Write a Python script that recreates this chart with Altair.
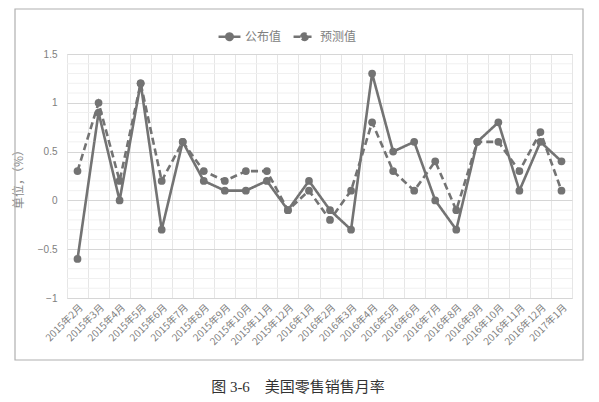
import altair as alt
import pandas as pd

months = ["2015年2月", "2015年3月", "2015年4月", "2015年5月", "2015年6月", "2015年7月",
          "2015年8月", "2015年9月", "2015年10月", "2015年11月", "2015年12月", "2016年1月",
          "2016年2月", "2016年3月", "2016年4月", "2016年5月", "2016年6月", "2016年7月",
          "2016年8月", "2016年9月", "2016年10月", "2016年11月", "2016年12月", "2017年1月"]
published = [-0.6, 0.9, 0.0, 1.2, -0.3, 0.6, 0.2, 0.1, 0.1, 0.2, -0.1, 0.2,
             -0.1, -0.3, 1.3, 0.5, 0.6, 0.0, -0.3, 0.6, 0.8, 0.1, 0.6, 0.4]
forecast = [0.3, 1.0, 0.2, 1.2, 0.2, 0.6, 0.3, 0.2, 0.3, 0.3, -0.1, 0.1,
            -0.2, 0.1, 0.8, 0.3, 0.1, 0.4, -0.1, 0.6, 0.6, 0.3, 0.7, 0.1]
series_names = ["公布值", "预测值"]
y_major = [-1, -0.5, 0, 0.5, 1, 1.5]
y_minor = [-0.9, -0.8, -0.7, -0.6, -0.4, -0.3, -0.2, -0.1, 0.1, 0.2, 0.3, 0.4,
           0.6, 0.7, 0.8, 0.9, 1.1, 1.2, 1.3, 1.4]
caption = "图 3-6\u00a0\u00a0\u00a0\u00a0美国零售销售月率"

rows = []
for i, m in enumerate(months):
    rows.append({"月份": m, "系列": series_names[0], "值": published[i]})
    rows.append({"月份": m, "系列": series_names[1], "值": forecast[i]})
df = pd.DataFrame(rows)

GRAY = "#737373"
FONT = "Noto Sans CJK SC"

x_axis = alt.Axis(labelAngle=-45, labelFontSize=10, labelColor="#808080",
                  labelFont=FONT, ticks=False, domain=False, grid=True,
                  tickBand="extent", gridColor="#e6e6e6", labelPadding=4)
x_scale = alt.Scale(paddingInner=0, paddingOuter=0)
y_axis = alt.Axis(values=y_major, ticks=False, domain=False, labelOverlap=False,
                  format="~g", gridColor="#d6d6d6",
                  labelFontSize=10, labelColor="#808080", labelPadding=10,
                  titleFont=FONT, titleFontSize=12, titleColor="#8a8a8a",
                  titleFontWeight="normal", titlePadding=12)
y_scale = alt.Scale(domain=[-1, 1.5], nice=False)
Y_TITLE = "单位，（%）"

x = alt.X("月份:N", sort=months, title=None, scale=x_scale, axis=x_axis)
y = alt.Y("值:Q", title=Y_TITLE, scale=y_scale, axis=y_axis)

legend = alt.Legend(title=None, orient="none", legendX=150, legendY=-30,
                    direction="horizontal", labelFont=FONT,
                    labelFontSize=12, labelColor="#808080",
                    symbolType="M-1,0H1M-0.3,0A0.3,0.3,0,1,1,0.3,0A0.3,0.3,0,1,1,-0.3,0",
                    symbolSize=480, symbolStrokeWidth=2.4,
                    symbolFillColor=GRAY, columnPadding=6, labelOffset=3)

minor = alt.Chart(pd.DataFrame({"v": y_minor})).mark_rule(
    color="#f0f0f0", strokeWidth=1
).encode(y=alt.Y("v:Q", title=Y_TITLE, scale=y_scale, axis=y_axis))

lines = alt.Chart(df).mark_line(strokeWidth=2.6).encode(
    x=x, y=y,
    color=alt.Color("系列:N", sort=series_names,
                    scale=alt.Scale(domain=series_names, range=[GRAY, GRAY]),
                    legend=legend),
    strokeDash=alt.StrokeDash("系列:N", sort=series_names,
                              scale=alt.Scale(domain=series_names, range=[[1, 0], [7, 4]]),
                              legend=legend),
)

points = alt.Chart(df).mark_circle(size=60, opacity=1, color=GRAY).encode(x=x, y=y)

border = alt.Chart(pd.DataFrame({"a": [0]})).mark_rect(
    fill=None, stroke="#b0b0b0", strokeWidth=1.2
).encode(x=alt.value(-52), x2=alt.value(516), y=alt.value(-45), y2=alt.value(306))

cap = alt.Chart(pd.DataFrame({"t": [caption]})).mark_text(
    font="Liberation Serif, Noto Sans CJK SC", fontSize=15, color="#333333",
    align="center", baseline="middle"
).encode(text="t:N", x=alt.value(231), y=alt.value(333))

chart = alt.layer(border, minor, lines, points, cap).properties(
    width=505, height=244,
    padding={"left": 59, "top": 46, "right": 19, "bottom": 96},
    autosize=alt.AutoSizeParams(type="none"),
).configure_view(stroke="#e4e4e4").configure(background="white")

chart.save("out.html", embed_options={"renderer": "svg", "actions": False})
